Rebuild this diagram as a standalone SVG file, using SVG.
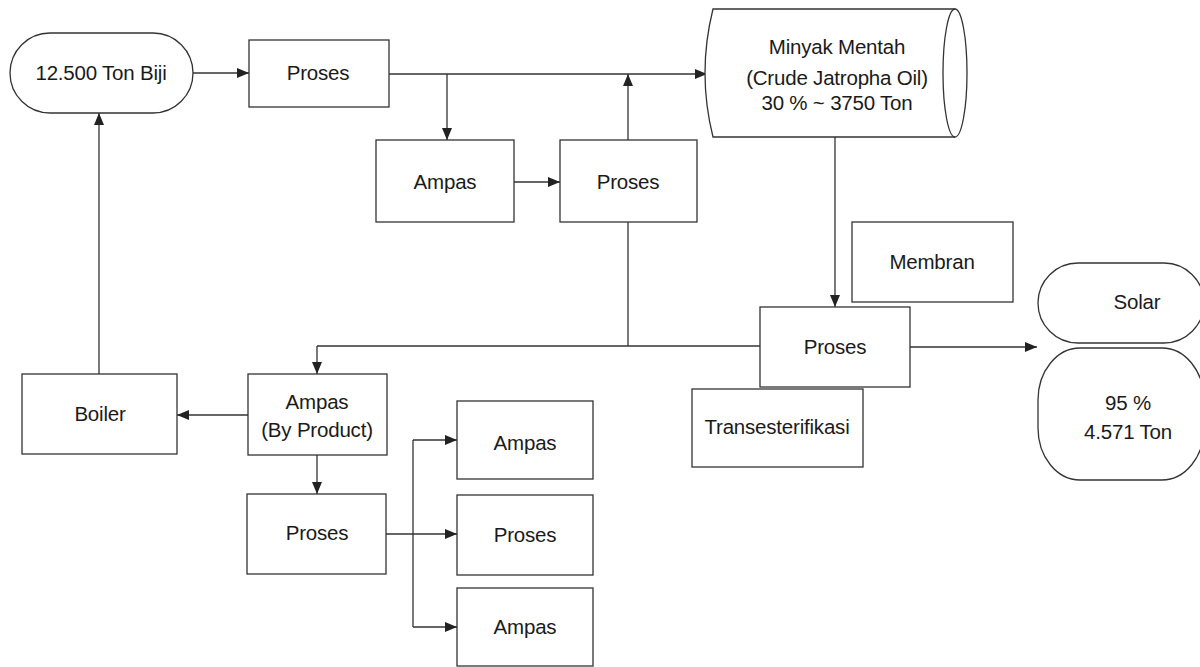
<svg xmlns="http://www.w3.org/2000/svg" width="1200" height="667" viewBox="0 0 1200 667">
<defs>
<marker id="ah" viewBox="0 0 12 10" refX="12" refY="5" markerWidth="12" markerHeight="10" markerUnits="userSpaceOnUse" orient="auto">
<path d="M0,0 L12,5 L0,10 Z" fill="#222"/>
</marker>
<style>
.box{fill:#fff;stroke:#333;stroke-width:1.3}
.ln{fill:none;stroke:#333;stroke-width:1.3}
.arr{fill:none;stroke:#333;stroke-width:1.3;marker-end:url(#ah)}
text{font-family:"Liberation Sans",Arial,sans-serif;font-size:20.5px;fill:#1a1a1a;text-anchor:middle;letter-spacing:-0.2px}
</style>
</defs>
<rect width="1200" height="667" fill="#fff"/>
<g id="connectors">
<line class="arr" x1="193" y1="73" x2="249" y2="73"/>
<line class="arr" x1="389" y1="74" x2="707" y2="74"/>
<line class="arr" x1="447" y1="74" x2="447" y2="140"/>
<line class="arr" x1="514" y1="182" x2="560" y2="182"/>
<line class="arr" x1="628" y1="140" x2="628" y2="74"/>
<line class="ln" x1="628" y1="222" x2="628" y2="346"/>
<line class="ln" x1="317" y1="346" x2="760" y2="346"/>
<line class="arr" x1="317" y1="346" x2="317" y2="374"/>
<line class="arr" x1="835" y1="137" x2="835" y2="307"/>
<line class="arr" x1="910" y1="347" x2="1037" y2="347"/>
<line class="arr" x1="248" y1="415" x2="177" y2="415"/>
<line class="arr" x1="99" y1="374" x2="99" y2="113"/>
<line class="arr" x1="317" y1="455" x2="317" y2="494"/>
<line class="arr" x1="386" y1="534" x2="457" y2="534"/>
<line class="ln" x1="413" y1="440" x2="413" y2="627"/>
<line class="arr" x1="413" y1="440" x2="457" y2="440"/>
<line class="arr" x1="413" y1="627" x2="457" y2="627"/>
</g>
<g id="biji">
<rect class="box" x="10" y="33" width="183" height="80" rx="40" ry="40"/>
<text x="101" y="80">12.500 Ton Biji</text>
</g>
<g id="proses1">
<rect class="box" x="249" y="40" width="140" height="67"/>
<text x="318" y="80">Proses</text>
</g>
<g id="ampas-top">
<rect class="box" x="376" y="140" width="138" height="82"/>
<text x="445" y="189">Ampas</text>
</g>
<g id="proses2">
<rect class="box" x="560" y="140" width="137" height="82"/>
<text x="628" y="189">Proses</text>
</g>
<g id="minyak">
<path class="box" d="M713,9 L955,9 A12,64 0 0 1 955,137 L713,137 Q697,73 713,9 Z"/>
<path class="ln" d="M955,9 A12,64 0 0 0 955,137"/>
<text x="837" y="54">Minyak Mentah</text>
<text x="837" y="85">(Crude Jatropha Oil)</text>
<text x="837" y="110">30 % ~ 3750 Ton</text>
</g>
<g id="membran">
<rect class="box" x="852" y="222" width="161" height="80"/>
<text x="932" y="269">Membran</text>
</g>
<g id="proses3">
<rect class="box" x="760" y="307" width="150" height="80"/>
<text x="835" y="354">Proses</text>
</g>
<g id="transesterifikasi">
<rect class="box" x="692" y="389" width="171" height="78"/>
<text x="777" y="434">Transesterifikasi</text>
</g>
<g id="solar">
<rect class="box" x="1038" y="263" width="166" height="80" rx="40" ry="40"/>
<text x="1137" y="309">Solar</text>
</g>
<g id="hasil">
<rect class="box" x="1038" y="348" width="166" height="132" rx="42" ry="52"/>
<text x="1128" y="410">95 %</text>
<text x="1128" y="439">4.571 Ton</text>
</g>
<g id="boiler">
<rect class="box" x="22" y="374" width="155" height="80"/>
<text x="100" y="421">Boiler</text>
</g>
<g id="ampas-bp">
<rect class="box" x="248" y="374" width="139" height="81"/>
<text x="317" y="409">Ampas</text>
<text x="317" y="437">(By Product)</text>
</g>
<g id="proses4">
<rect class="box" x="247" y="494" width="139" height="80"/>
<text x="317" y="540">Proses</text>
</g>
<g id="ampas1">
<rect class="box" x="457" y="401" width="136" height="78"/>
<text x="525" y="450">Ampas</text>
</g>
<g id="proses5">
<rect class="box" x="457" y="495" width="136" height="80"/>
<text x="525" y="542">Proses</text>
</g>
<g id="ampas2">
<rect class="box" x="457" y="588" width="136" height="78"/>
<text x="525" y="634">Ampas</text>
</g>
</svg>
